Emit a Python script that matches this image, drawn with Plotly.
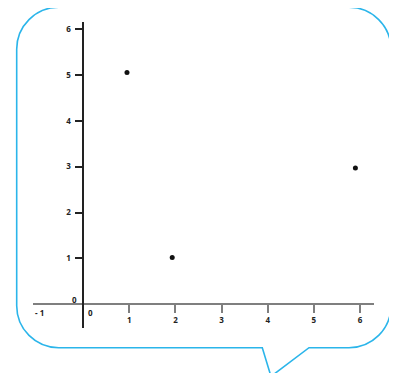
import plotly.graph_objects as go

# data
point_x = [0.95, 1.93, 5.9]
point_y = [5.05, 1.02, 2.97]
x_ticks = [1, 2, 3, 4, 5, 6]
y_ticks = [1, 2, 3, 4, 5, 6]

W, H = 397, 373
OFF = 8  # page body margin
BLUE = "#2bb5ea"
GRAY = "#7f7f7f"
DARK = "#222222"


def px(x, y):
    """page pixel -> paper coords"""
    return (x - OFF) / W, 1 - (y - OFF) / H


def bubble_path(l, t, r, b, rad, tail):
    k = 0.5523 * rad

    def P(x, y):
        X, Y = px(x, y)
        return f"{X:.5f},{Y:.5f}"

    s = f"M{P(l + rad, t)} L{P(r - rad, t)} "
    s += f"C{P(r - rad + k, t)} {P(r, t + rad - k)} {P(r, t + rad)} "
    s += f"L{P(r, b - rad)} "
    s += f"C{P(r, b - rad + k)} {P(r - rad + k, b)} {P(r - rad, b)} "
    for (tx, ty) in tail:
        s += f"L{P(tx, ty)} "
    s += f"L{P(l + rad, b)} "
    s += f"C{P(l + rad - k, b)} {P(l, b - rad + k)} {P(l, b - rad)} "
    s += f"L{P(l, t + rad)} "
    s += f"C{P(l, t + rad - k)} {P(l + rad - k, t)} {P(l + rad, t)} Z"
    return s


fig = go.Figure()

fig.add_trace(go.Scatter(
    x=point_x, y=point_y, mode="markers",
    marker=dict(color="#111111", size=5),
    showlegend=False, hoverinfo="skip",
))

# speech bubble outline
fig.add_shape(
    type="path", xref="paper", yref="paper",
    path=bubble_path(16.7, 7.3, 391, 347.7, 42,
                     [(309, 347.7), (271, 376.5), (262.3, 347.7)]),
    line=dict(color=BLUE, width=1.6), layer="below",
)

font = dict(family="Open Sans", size=8, color=DARK, weight="bold")

x0, _ = px(33, 0)
x1, _ = px(374, 0)
_, y1 = px(0, 22)
_, y0 = px(0, 328)
_, xpos = px(0, 304.3)
ypos, _ = px(83.16, 0)

fig.update_layout(
    width=W, height=H,
    margin=dict(l=0, r=0, t=0, b=0),
    plot_bgcolor="white", paper_bgcolor="white",
    xaxis=dict(
        domain=[x0, x1], range=[-1.087, 6.303],
        anchor="free", position=xpos,
        showgrid=False, zeroline=False,
        showline=True, linecolor=GRAY, linewidth=2,
        tickmode="array", tickvals=x_ticks,
        ticks="outside", ticklen=8, tickwidth=2, tickcolor=GRAY,
        tickfont=font,
    ),
    yaxis=dict(
        domain=[y0, y1], range=[-0.517, 6.153],
        anchor="free", position=ypos,
        showgrid=False, zeroline=False,
        showline=True, linecolor=DARK, linewidth=1.5,
        tickmode="array", tickvals=y_ticks,
        ticks="outside", ticklen=7, tickwidth=1.5, tickcolor=DARK,
        tickfont=font, ticklabelstandoff=3,
    ),
)

# loose labels without tick marks
for txt, x, y in [("- 1", -0.94, -0.18), ("0", 0.15, -0.18), ("0", -0.18, 0.11)]:
    fig.add_annotation(x=x, y=y, text=txt, showarrow=False, font=font,
                       xanchor="center", yanchor="middle")

fig.write_html("out.html")
